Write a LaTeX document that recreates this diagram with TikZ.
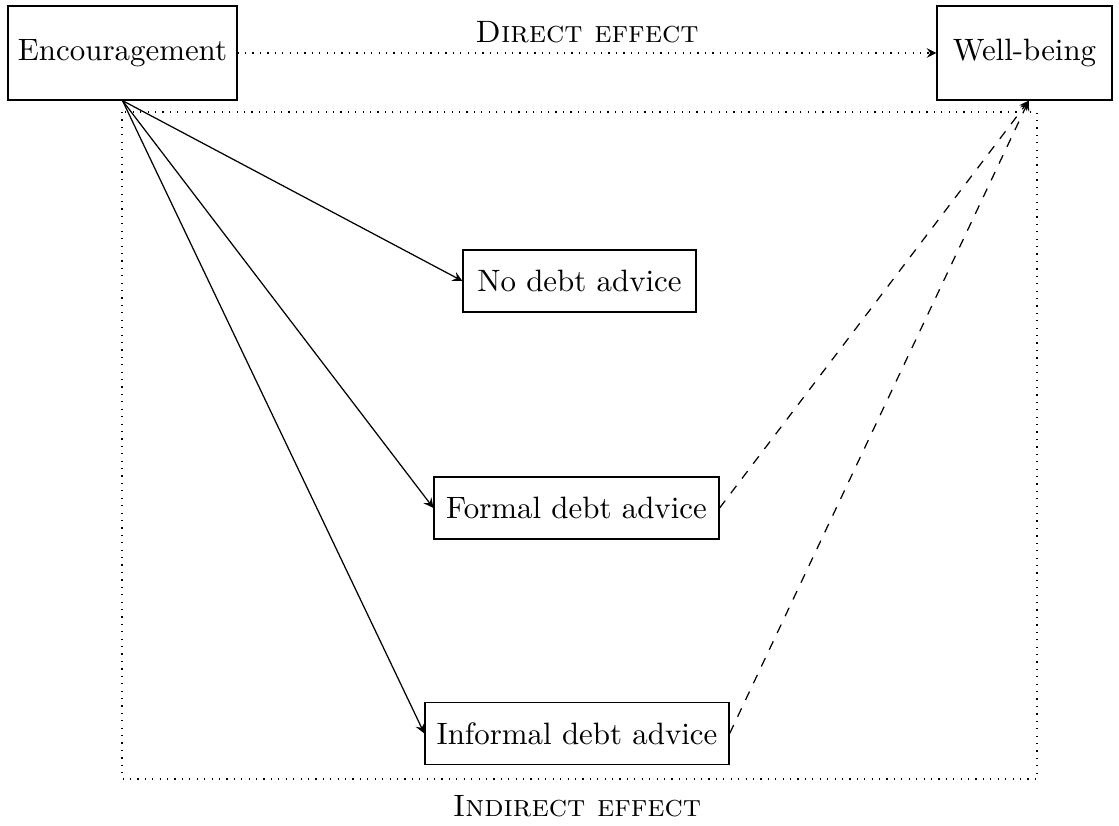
\documentclass[tikz,border=0pt]{standalone}
\usetikzlibrary{arrows}
\begin{document}
\begin{tikzpicture}[x=0.3236pt,y=-0.3236pt,
  box/.style={draw,inner sep=0pt,minimum height=#1},
  box/.default=20pt,
  solidarrow/.style={-stealth},
  dasharrow/.style={-stealth,dashed},
  dotarrow/.style={-stealth,dotted}]
\useasboundingbox (0,0) rectangle (1119,825);
\node[box=30.4pt,minimum width=74.1pt] (enc) at (122.5,53) {Encouragement};
\node[box=30.4pt,minimum width=56.6pt] (wb) at (1024.5,53) {Well-being};
\node[box=20pt,minimum width=75.4pt] (no) at (579.5,281) {No debt advice};
\node[box=20pt,minimum width=92.2pt] (formal) at (576.5,508) {Formal debt advice};
\node[box=20.3pt,minimum width=98.4pt] (informal) at (577,733.5) {Informal debt advice};
\draw[dotted] (122,112) rectangle (1037,779);
\node (direct) at (587,32) {\textsc{Direct effect}};
\node (indirect) at (577,806) {\textsc{Indirect effect}};
\coordinate (wbin) at ([xshift=1.4pt]wb.south);
\draw[dotarrow] (enc.east) -- (wb.west);
\draw[solidarrow] (enc.south) -- (no.west);
\draw[solidarrow] (enc.south) -- (formal.west);
\draw[solidarrow] (enc.south) -- (informal.west);
\draw[dasharrow] (formal.east) -- (wbin);
\draw[dasharrow] (informal.east) -- (wbin);
\end{tikzpicture}
\end{document}
